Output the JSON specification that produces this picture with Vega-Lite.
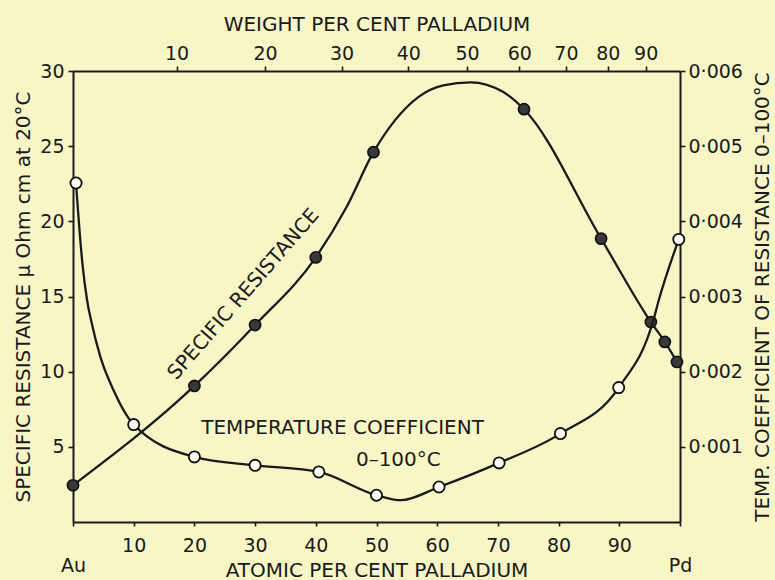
{
  "$schema": "https://vega.github.io/schema/vega-lite/v6.json",
  "width": 607,
  "height": 451,
  "autosize": {"type": "none"},
  "padding": {"left": 73, "top": 71, "right": 95, "bottom": 58},
  "background": "#f8f6c7",
  "config": {
    "view": {"stroke": null},
    "font": "DejaVu Sans",
    "axis": {
      "grid": false,
      "domainColor": "#1a1a1a",
      "domainWidth": 2,
      "tickColor": "#1a1a1a",
      "tickWidth": 1.6,
      "labelColor": "#1a1a1a",
      "titleColor": "#1a1a1a",
      "labelFont": "DejaVu Sans",
      "titleFont": "DejaVu Sans",
      "labelFontSize": 19,
      "titleFontSize": 20,
      "titleFontWeight": "normal",
      "labelOverlap": false,
      "labelBound": false,
      "labelFlush": false
    }
  },
  "datasets": {
    "resistance": [
      {"pct": 0, "rho": 2.44, "measured": "yes"},
      {"pct": 20, "rho": 9.05, "measured": "yes"},
      {"pct": 30, "rho": 13.1, "measured": "yes"},
      {"pct": 40, "rho": 17.6, "measured": "yes"},
      {"pct": 45, "rho": 20.9, "measured": "no"},
      {"pct": 49.5, "rho": 24.6, "measured": "yes"},
      {"pct": 53, "rho": 26.7, "measured": "no"},
      {"pct": 57, "rho": 28.3, "measured": "no"},
      {"pct": 61, "rho": 29.05, "measured": "no"},
      {"pct": 65.5, "rho": 29.25, "measured": "no"},
      {"pct": 70.9, "rho": 28.6, "measured": "no"},
      {"pct": 74.3, "rho": 27.46, "measured": "yes"},
      {"pct": 87, "rho": 18.85, "measured": "yes"},
      {"pct": 95.2, "rho": 13.3, "measured": "yes"},
      {"pct": 97.5, "rho": 11.98, "measured": "yes"},
      {"pct": 99.5, "rho": 10.65, "measured": "yes"}
    ],
    "tempcoef": [
      {"pct": 0.5, "alpha": 0.00451, "measured": "yes"},
      {"pct": 0.7, "alpha": 0.00428, "measured": "no"},
      {"pct": 1.6, "alpha": 0.0034, "measured": "no"},
      {"pct": 2.3, "alpha": 0.00296, "measured": "no"},
      {"pct": 3.1, "alpha": 0.00264, "measured": "no"},
      {"pct": 4.5, "alpha": 0.0022, "measured": "no"},
      {"pct": 6.7, "alpha": 0.00175, "measured": "no"},
      {"pct": 10, "alpha": 0.001296, "measured": "yes"},
      {"pct": 20, "alpha": 0.000866, "measured": "yes"},
      {"pct": 30, "alpha": 0.000754, "measured": "yes"},
      {"pct": 40.5, "alpha": 0.000666, "measured": "yes"},
      {"pct": 50, "alpha": 0.000356, "measured": "yes"},
      {"pct": 54, "alpha": 0.00029, "measured": "no"},
      {"pct": 60.3, "alpha": 0.000466, "measured": "yes"},
      {"pct": 70.2, "alpha": 0.000786, "measured": "yes"},
      {"pct": 80.3, "alpha": 0.001176, "measured": "yes"},
      {"pct": 89.9, "alpha": 0.001788, "measured": "yes"},
      {"pct": 95.6, "alpha": 0.00268, "measured": "no"},
      {"pct": 96.5, "alpha": 0.00295, "measured": "no"},
      {"pct": 99.8, "alpha": 0.00376, "measured": "yes"}
    ]
  },
  "resolve": {"scale": {"y": "independent"}, "axis": {"x": "independent"}},
  "layer": [
    {
      "data": {"name": "resistance"},
      "mark": {"type": "line", "interpolate": "monotone", "color": "#1a1a1a", "strokeWidth": 2.3},
      "encoding": {
        "x": {
          "field": "pct", "type": "quantitative",
          "scale": {"domain": [0, 100], "nice": false, "zero": false},
          "axis": {
            "orient": "bottom",
            "values": [0, 10, 20, 30, 40, 50, 60, 70, 80, 90, 100],
            "labelExpr": "datum.value == 0 ? ['', 'Au'] : datum.value == 100 ? ['', 'Pd'] : datum.label",
            "tickSize": 4,
            "labelPadding": 10,
            "labelLineHeight": 20,
            "title": "ATOMIC PER CENT PALLADIUM",
            "titlePadding": -15
          }
        },
        "y": {
          "field": "rho", "type": "quantitative",
          "scale": {"domain": [0, 30], "nice": false},
          "axis": {
            "orient": "left",
            "values": [5, 10, 15, 20, 25, 30],
            "tickSize": 5,
            "labelPadding": 4,
            "title": "SPECIFIC RESISTANCE μ Ohm cm at 20°C",
            "titlePadding": 6
          }
        }
      }
    },
    {
      "data": {"name": "resistance"},
      "transform": [{"filter": "datum.measured == 'yes'"}],
      "mark": {"type": "point", "filled": true, "fill": "#383838", "stroke": "#111111", "strokeWidth": 1.6, "size": 125, "opacity": 1},
      "encoding": {
        "x": {"field": "pct", "type": "quantitative", "scale": {"domain": [0, 100], "nice": false, "zero": false}, "axis": null},
        "y": {"field": "rho", "type": "quantitative", "scale": {"domain": [0, 30], "nice": false}, "axis": null}
      }
    },
    {
      "data": {"name": "tempcoef"},
      "mark": {"type": "line", "interpolate": "monotone", "color": "#1a1a1a", "strokeWidth": 2.3},
      "encoding": {
        "x": {
          "field": "pct", "type": "quantitative",
          "scale": {"domain": [0, 100], "nice": false, "zero": false},
          "axis": {
            "orient": "top",
            "values": [17.06, 31.63, 44.24, 55.24, 64.92, 73.52, 81.2, 88.1, 94.34],
            "labelExpr": "['10','20','30','40','50','60','70','80','90'][indexof([17.06, 31.63, 44.24, 55.24, 64.92, 73.52, 81.2, 88.1, 94.34], datum.value)]",
            "tickSize": 5,
            "labelPadding": 3,
            "title": "WEIGHT PER CENT PALLADIUM",
            "titlePadding": 10
          }
        },
        "y": {
          "field": "alpha", "type": "quantitative",
          "scale": {"domain": [0, 0.006], "nice": false},
          "axis": {
            "orient": "right",
            "values": [0.001, 0.002, 0.003, 0.004, 0.005, 0.006],
            "labelExpr": "replace(format(datum.value, '.3f'), '.', '·')",
            "tickSize": 5,
            "labelPadding": 3,
            "title": "TEMP. COEFFICIENT OF RESISTANCE 0–100°C",
            "titleAngle": 270,
            "titleBaseline": "top",
            "titlePadding": 10
          }
        }
      }
    },
    {
      "data": {"name": "tempcoef"},
      "transform": [{"filter": "datum.measured == 'yes'"}],
      "mark": {"type": "point", "filled": true, "fill": "#fffef2", "stroke": "#111111", "strokeWidth": 1.8, "size": 125, "opacity": 1},
      "encoding": {
        "x": {"field": "pct", "type": "quantitative", "scale": {"domain": [0, 100], "nice": false, "zero": false}, "axis": null},
        "y": {"field": "alpha", "type": "quantitative", "scale": {"domain": [0, 0.006], "nice": false}, "axis": null}
      }
    },
    {
      "data": {"values": [{"pct": 28.1, "rho": 15.15, "label": "SPECIFIC RESISTANCE"}]},
      "mark": {"type": "text", "angle": -49, "align": "center", "baseline": "middle", "fontSize": 20, "font": "DejaVu Sans", "color": "#1a1a1a"},
      "encoding": {
        "x": {"field": "pct", "type": "quantitative", "scale": {"domain": [0, 100], "nice": false, "zero": false}, "axis": null},
        "y": {"field": "rho", "type": "quantitative", "scale": {"domain": [0, 30], "nice": false}, "axis": null},
        "text": {"field": "label"}
      }
    },
    {
      "data": {"values": [
        {"pct": 44.4, "rho": 6.27, "label": "TEMPERATURE COEFFICIENT"},
        {"pct": 53.6, "rho": 4.1, "label": "0–100°C"}
      ]},
      "mark": {"type": "text", "align": "center", "baseline": "middle", "fontSize": 20, "font": "DejaVu Sans", "color": "#1a1a1a"},
      "encoding": {
        "x": {"field": "pct", "type": "quantitative", "scale": {"domain": [0, 100], "nice": false, "zero": false}, "axis": null},
        "y": {"field": "rho", "type": "quantitative", "scale": {"domain": [0, 30], "nice": false}, "axis": null},
        "text": {"field": "label"}
      }
    }
  ]
}
